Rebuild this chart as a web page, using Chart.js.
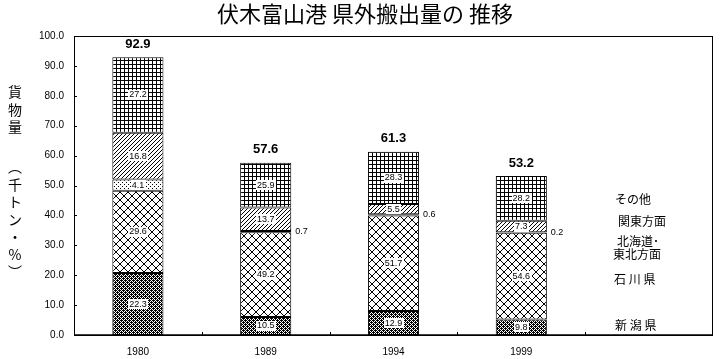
<!DOCTYPE html>
<html>
<head>
<meta charset="utf-8">
<script src="https://cdn.jsdelivr.net/npm/chart.js@4/dist/chart.umd.min.js"></script>
<style>
html,body{margin:0;padding:0;background:#fff;}
canvas{display:block;}
</style>
</head>
<body>
<canvas id="c" width="720" height="359"></canvas>
<script>
// ---- data ----
const categories = ['1980', '1989', '1994', '1999', ''];
const totals = [92.9, 57.6, 61.3, 53.2, null];
const seriesNames = ['新潟県', '石川県', '北海道・東北方面', '関東方面', 'その他'];
const niigataPct   = [22.3, 10.5, 12.9, 9.8, null];
const ishikawaPct  = [29.6, 49.2, 51.7, 54.6, null];
const hokkaidoPct  = [4.1, 0.7, 0.6, 0.2, null];
const kantoPct     = [16.8, 13.7, 5.5, 7.3, null];
const sonotaPct    = [27.2, 25.9, 28.3, 28.2, null];
const yTicks = [0, 10, 20, 30, 40, 50, 60, 70, 80, 90, 100];
const legendTexts = ['新 潟 県', '石 川 県', ['北海道･', '東北方面'], '関東方面', 'その他'];
const titleText = '伏木富山港 県外搬出量の 推移';
const yTitleChars1 = ['貨', '物', '量'];
const yTitleChars2 = ['︵', '千', 'ト', 'ン', '・', '%', '︶'];

const pctSeries = [niigataPct, ishikawaPct, hokkaidoPct, kantoPct, sonotaPct];

// segment heights (thousand tons) from share x total
const pctSums = categories.map((_, j) => pctSeries.reduce((s, a) => s + (a[j] || 0), 0));
const segValues = pctSeries.map(a => a.map((p, j) => p == null ? null : p / pctSums[j] * totals[j]));

// ---- patterns ----
function makePattern(size, draw) {
  const c = document.createElement('canvas');
  c.width = size; c.height = size;
  const x = c.getContext('2d');
  x.fillStyle = '#fff'; x.fillRect(0, 0, size, size);
  x.fillStyle = '#000';
  draw(x, size);
  return document.getElementById('c').getContext('2d').createPattern(c, 'repeat');
}
const patNiigata = makePattern(4, (x) => {
  for (let i = 0; i < 4; i++) for (let j = 0; j < 4; j++) {
    if ((i + j) % 2 === 0) x.fillRect(i, j, 1, 1);
  }
  x.fillRect(1, 0, 1, 1); x.fillRect(3, 2, 1, 1);
});
const patIshikawa = makePattern(8, (x) => {
  for (let i = 0; i < 8; i++) { x.fillRect(i, i, 1, 1); x.fillRect(7 - i, i, 1, 1); }
});
const patHokkaido = makePattern(4, (x) => {
  x.fillRect(0, 0, 1, 1); x.fillRect(2, 2, 1, 1);
});
const patKanto = makePattern(4, (x) => {
  for (let i = 0; i < 4; i++) x.fillRect(3 - i, i, 1, 1);
});
const patSonota = makePattern(4, (x) => {
  x.fillRect(0, 0, 4, 1); x.fillRect(0, 0, 1, 4);
});
const patterns = [patNiigata, patIshikawa, patHokkaido, patKanto, patSonota];

const numFont = '"Liberation Sans", Arial, sans-serif';
const jpFont = '"Noto Sans CJK JP", sans-serif';

const decoPlugin = {
  id: 'deco',
  afterDraw(chart) {
    const ctx = chart.ctx;
    const a = chart.chartArea;
    const ys = chart.scales.y;
    ctx.save();
    // frame
    ctx.strokeStyle = '#000'; ctx.lineWidth = 1;
    ctx.strokeRect(a.left + 0.5, a.top + 0.5, a.right - a.left - 1, a.bottom - a.top);
    ctx.lineWidth = 1.5;
    ctx.beginPath(); ctx.moveTo(a.left, a.bottom); ctx.lineTo(a.right, a.bottom); ctx.stroke();
    ctx.lineWidth = 1;
    // y ticks inward
    yTicks.forEach(v => {
      const py = Math.round(ys.getPixelForValue(v)) + 0.5;
      ctx.beginPath(); ctx.moveTo(a.left, py); ctx.lineTo(a.left + 3, py); ctx.stroke();
    });
    // x ticks at category boundaries
    const n = categories.length;
    const w = (a.right - a.left) / n;
    for (let i = 1; i < n; i++) {
      const px = Math.round(a.left + i * w) + 0.5;
      ctx.beginPath(); ctx.moveTo(px, a.bottom); ctx.lineTo(px, a.bottom - 3); ctx.stroke();
    }
    // title
    ctx.fillStyle = '#000';
    ctx.font = '22px ' + jpFont;
    ctx.textAlign = 'center'; ctx.textBaseline = 'middle';
    ctx.fillText(titleText, 365, 14);
    // y title (vertical)
    ctx.font = '14px ' + jpFont;
    yTitleChars1.forEach((ch, i) => ctx.fillText(ch, 15, 92 + i * 17.5));
    yTitleChars2.forEach((ch, i) => ctx.fillText(ch, 15, 167 + i * 17.5));
    // legend texts in empty fifth category
    ctx.font = '12px ' + jpFont;
    ctx.textAlign = 'left';
    const legVals = [3.1, 18.7, [31.2, 26.8], 37.9, 45.2];
    const legX = [615, 614, [617, 613], 618, 615];
    legendTexts.forEach((t, i) => {
      if (Array.isArray(t)) {
        t.forEach((tt, k) => ctx.fillText(tt, legX[i][k], ys.getPixelForValue(legVals[i][k])));
      } else {
        ctx.fillText(t, legX[i], ys.getPixelForValue(legVals[i]));
      }
    });
    // segment labels
    ctx.font = '9px ' + numFont;
    chart.data.datasets.forEach((ds, di) => {
      const meta = chart.getDatasetMeta(di);
      meta.data.forEach((el, j) => {
        const pct = pctSeries[di][j];
        if (pct == null) return;
        const txt = pct.toFixed(1);
        const cy = (el.y + el.base) / 2;
        if (pct < 2) {
          ctx.textAlign = 'left';
          ctx.fillStyle = '#000';
          ctx.fillText(txt, el.x + el.width / 2 + 4, cy);
        } else {
          const tw = ctx.measureText(txt).width;
          ctx.fillStyle = '#fff';
          ctx.fillRect(Math.round(el.x - tw / 2 - 1), Math.round(cy - 5), Math.ceil(tw + 2), 10);
          ctx.fillStyle = '#000';
          ctx.textAlign = 'center';
          ctx.fillText(txt, el.x, cy);
        }
      });
    });
    // totals
    ctx.font = 'bold 13px ' + numFont;
    ctx.textAlign = 'center';
    ctx.fillStyle = '#000';
    const topMeta = chart.getDatasetMeta(chart.data.datasets.length - 1);
    topMeta.data.forEach((el, j) => {
      if (totals[j] == null) return;
      ctx.fillText(totals[j].toFixed(1), el.x, ys.getPixelForValue(totals[j]) - 13);
    });
    ctx.restore();
  }
};

new Chart(document.getElementById('c'), {
  type: 'bar',
  data: {
    labels: categories,
    datasets: seriesNames.map((name, i) => ({
      label: name,
      data: segValues[i],
      backgroundColor: patterns[i],
      borderColor: '#000',
      borderWidth: 1,
      borderSkipped: false,
      categoryPercentage: 1,
      barPercentage: 0.4
    }))
  },
  options: {
    responsive: false,
    animation: false,
    devicePixelRatio: 1,
    layout: { padding: { left: 0, right: 7, top: 36, bottom: 0 } },
    plugins: { legend: { display: false }, tooltip: { enabled: false }, title: { display: false } },
    scales: {
      x: {
        stacked: true,
        grid: { display: false, drawTicks: false },
        border: { display: false },
        ticks: { padding: 11, color: '#000', font: { family: numFont, size: 10 }, maxRotation: 0 },
        afterFit(s) { s.height = 24; }
      },
      y: {
        stacked: true,
        min: 0, max: 100,
        grid: { display: false, drawTicks: false },
        border: { display: false },
        afterBuildTicks(s) { s.ticks = yTicks.map(v => ({ value: v })); },
        ticks: {
          padding: 10, color: '#000',
          font: { family: numFont, size: 10 },
          callback: v => Number(v).toFixed(1)
        },
        afterFit(s) { s.width = 74; }
      }
    }
  },
  plugins: [decoPlugin]
});
</script>
</body>
</html>
